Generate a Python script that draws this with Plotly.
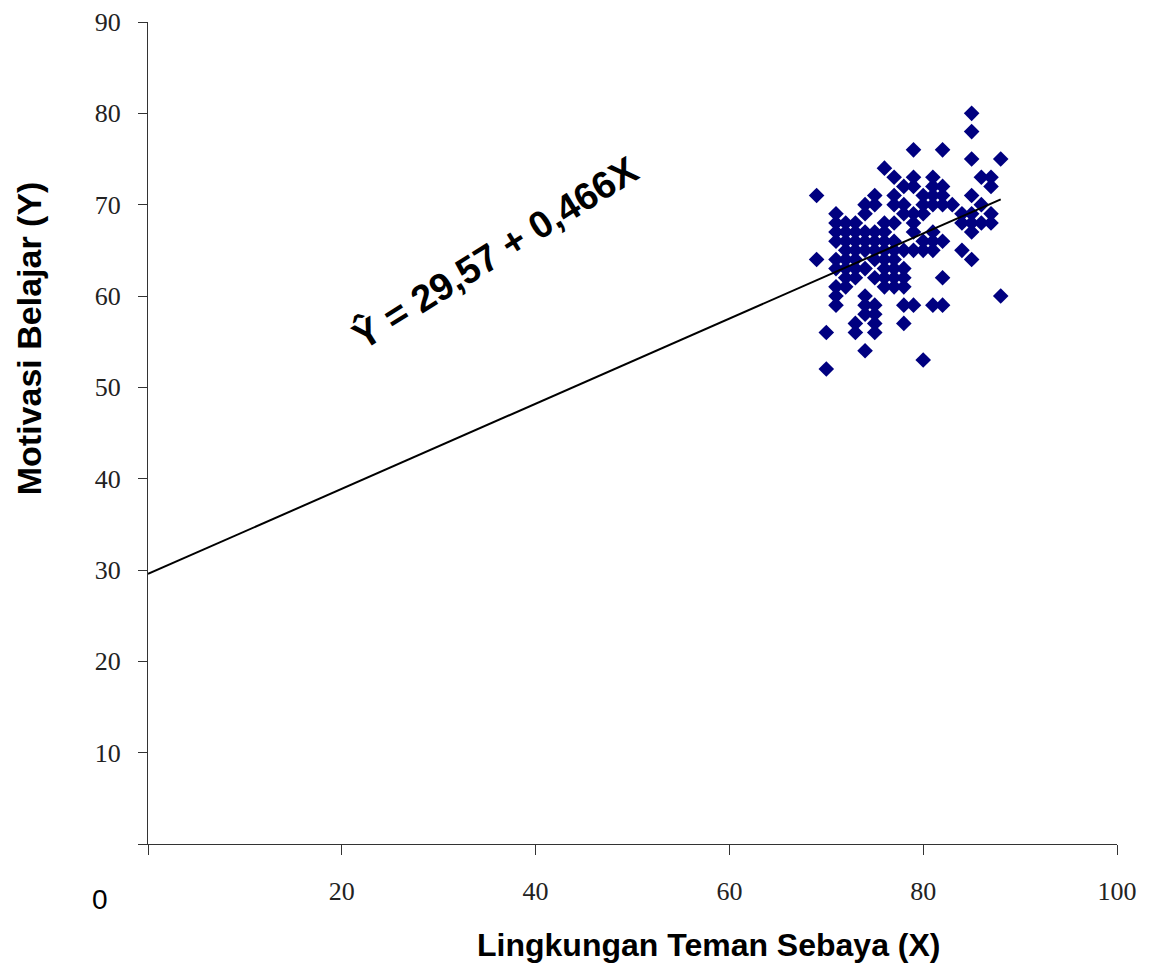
import plotly.graph_objects as go

# Scatter data: X (Lingkungan Teman Sebaya), Y (Motivasi Belajar)
pts = {
    69: [71, 64],
    70: [56, 52],
    71: [69, 68, 67, 66, 64, 63, 61, 60, 59],
    72: [68, 67, 66, 65, 64, 63, 62, 61],
    73: [68, 67, 66, 65, 64, 63, 62, 57, 56],
    74: [70, 69, 67, 66, 65, 63, 60, 59, 58, 54],
    75: [71, 70, 67, 66, 65, 64, 62, 59, 58, 57, 56],
    76: [74, 68, 67, 66, 65, 64, 63, 62, 61],
    77: [73, 71, 70, 68, 66, 65, 64, 63, 62, 61],
    78: [72, 70, 69, 65, 63, 62, 61, 59, 57],
    79: [76, 73, 72, 69, 68, 67, 65, 59],
    80: [71, 70, 69, 66, 65, 53],
    81: [73, 72, 71, 70, 67, 66, 65, 59],
    82: [76, 72, 71, 70, 66, 62, 59],
    83: [70],
    84: [69, 68, 65],
    85: [80, 78, 75, 71, 69, 68, 67, 64],
    86: [73, 70, 68],
    87: [73, 72, 69, 68],
    88: [75, 60],
}
x_vals = [x for x, ys in pts.items() for _ in ys]
y_vals = [y for ys in pts.values() for y in ys]

intercept = 29.57
slope = 0.466
line_x = [0, 88]
line_y = [intercept + slope * v for v in line_x]

x_ticks = [0, 20, 40, 60, 80, 100]
x_ticktext = ["", "20", "40", "60", "80", "100"]
y_ticks = [0, 10, 20, 30, 40, 50, 60, 70, 80, 90]
y_ticktext = ["", "10", "20", "30", "40", "50", "60", "70", "80", "90"]

fig = go.Figure()
fig.add_trace(go.Scatter(x=x_vals, y=y_vals, mode="markers",
                         marker=dict(symbol="diamond", size=12, color="#000080",
                                     line=dict(width=0)),
                         showlegend=False))
fig.add_trace(go.Scatter(x=line_x, y=line_y, mode="lines",
                         line=dict(color="black", width=2), showlegend=False))

fig.update_layout(
    width=1152, height=971,
    margin=dict(l=140, r=43, t=14, b=135),
    paper_bgcolor="white", plot_bgcolor="white",
    font=dict(family="Liberation Serif, Times New Roman, serif", size=26, color="#222"),
    xaxis=dict(range=[0, 100], tickvals=x_ticks, ticktext=x_ticktext,
               showgrid=False, zeroline=False, showline=True, linecolor="#333",
               linewidth=1, ticks="outside", ticklen=10, tickcolor="#333",
               ticklabelstandoff=14, automargin=False),
    yaxis=dict(range=[0, 90], tickvals=y_ticks, ticktext=y_ticktext,
               showgrid=False, zeroline=False, showline=True, linecolor="#333",
               linewidth=1, ticks="outside", ticklen=9, tickcolor="#333",
               ticklabelstandoff=12, automargin=False),
    annotations=[
        dict(text="Lingkungan Teman Sebaya (X)", xref="paper", yref="paper",
             x=0.578, y=-0.1229, xanchor="center", yanchor="middle", showarrow=False,
             font=dict(family="Liberation Sans, Arial, sans-serif", size=32,
                       color="black", weight="bold")),
        dict(text="Motivasi Belajar (Y)", xref="paper", yref="paper",
             x=-0.122, y=0.615, xanchor="center", yanchor="middle",
             showarrow=False, textangle=-90,
             font=dict(family="Liberation Sans, Arial, sans-serif", size=34,
                       color="black", weight="bold")),
        dict(text="0", xref="paper", yref="paper", x=-0.0495, y=-0.068,
             xanchor="center", yanchor="middle", showarrow=False,
             font=dict(family="Liberation Sans, Arial, sans-serif", size=28,
                       color="black")),
        dict(text="Ŷ = 29,57 + 0,466X", xref="x", yref="y", x=35.8, y=64.8,
             xanchor="center", yanchor="middle",
             showarrow=False, textangle=-32,
             font=dict(family="Liberation Sans Narrow, Arial Narrow, Liberation Sans, sans-serif",
                       size=38, color="black", weight="bold")),
    ],
)

fig.write_html("out.html")
